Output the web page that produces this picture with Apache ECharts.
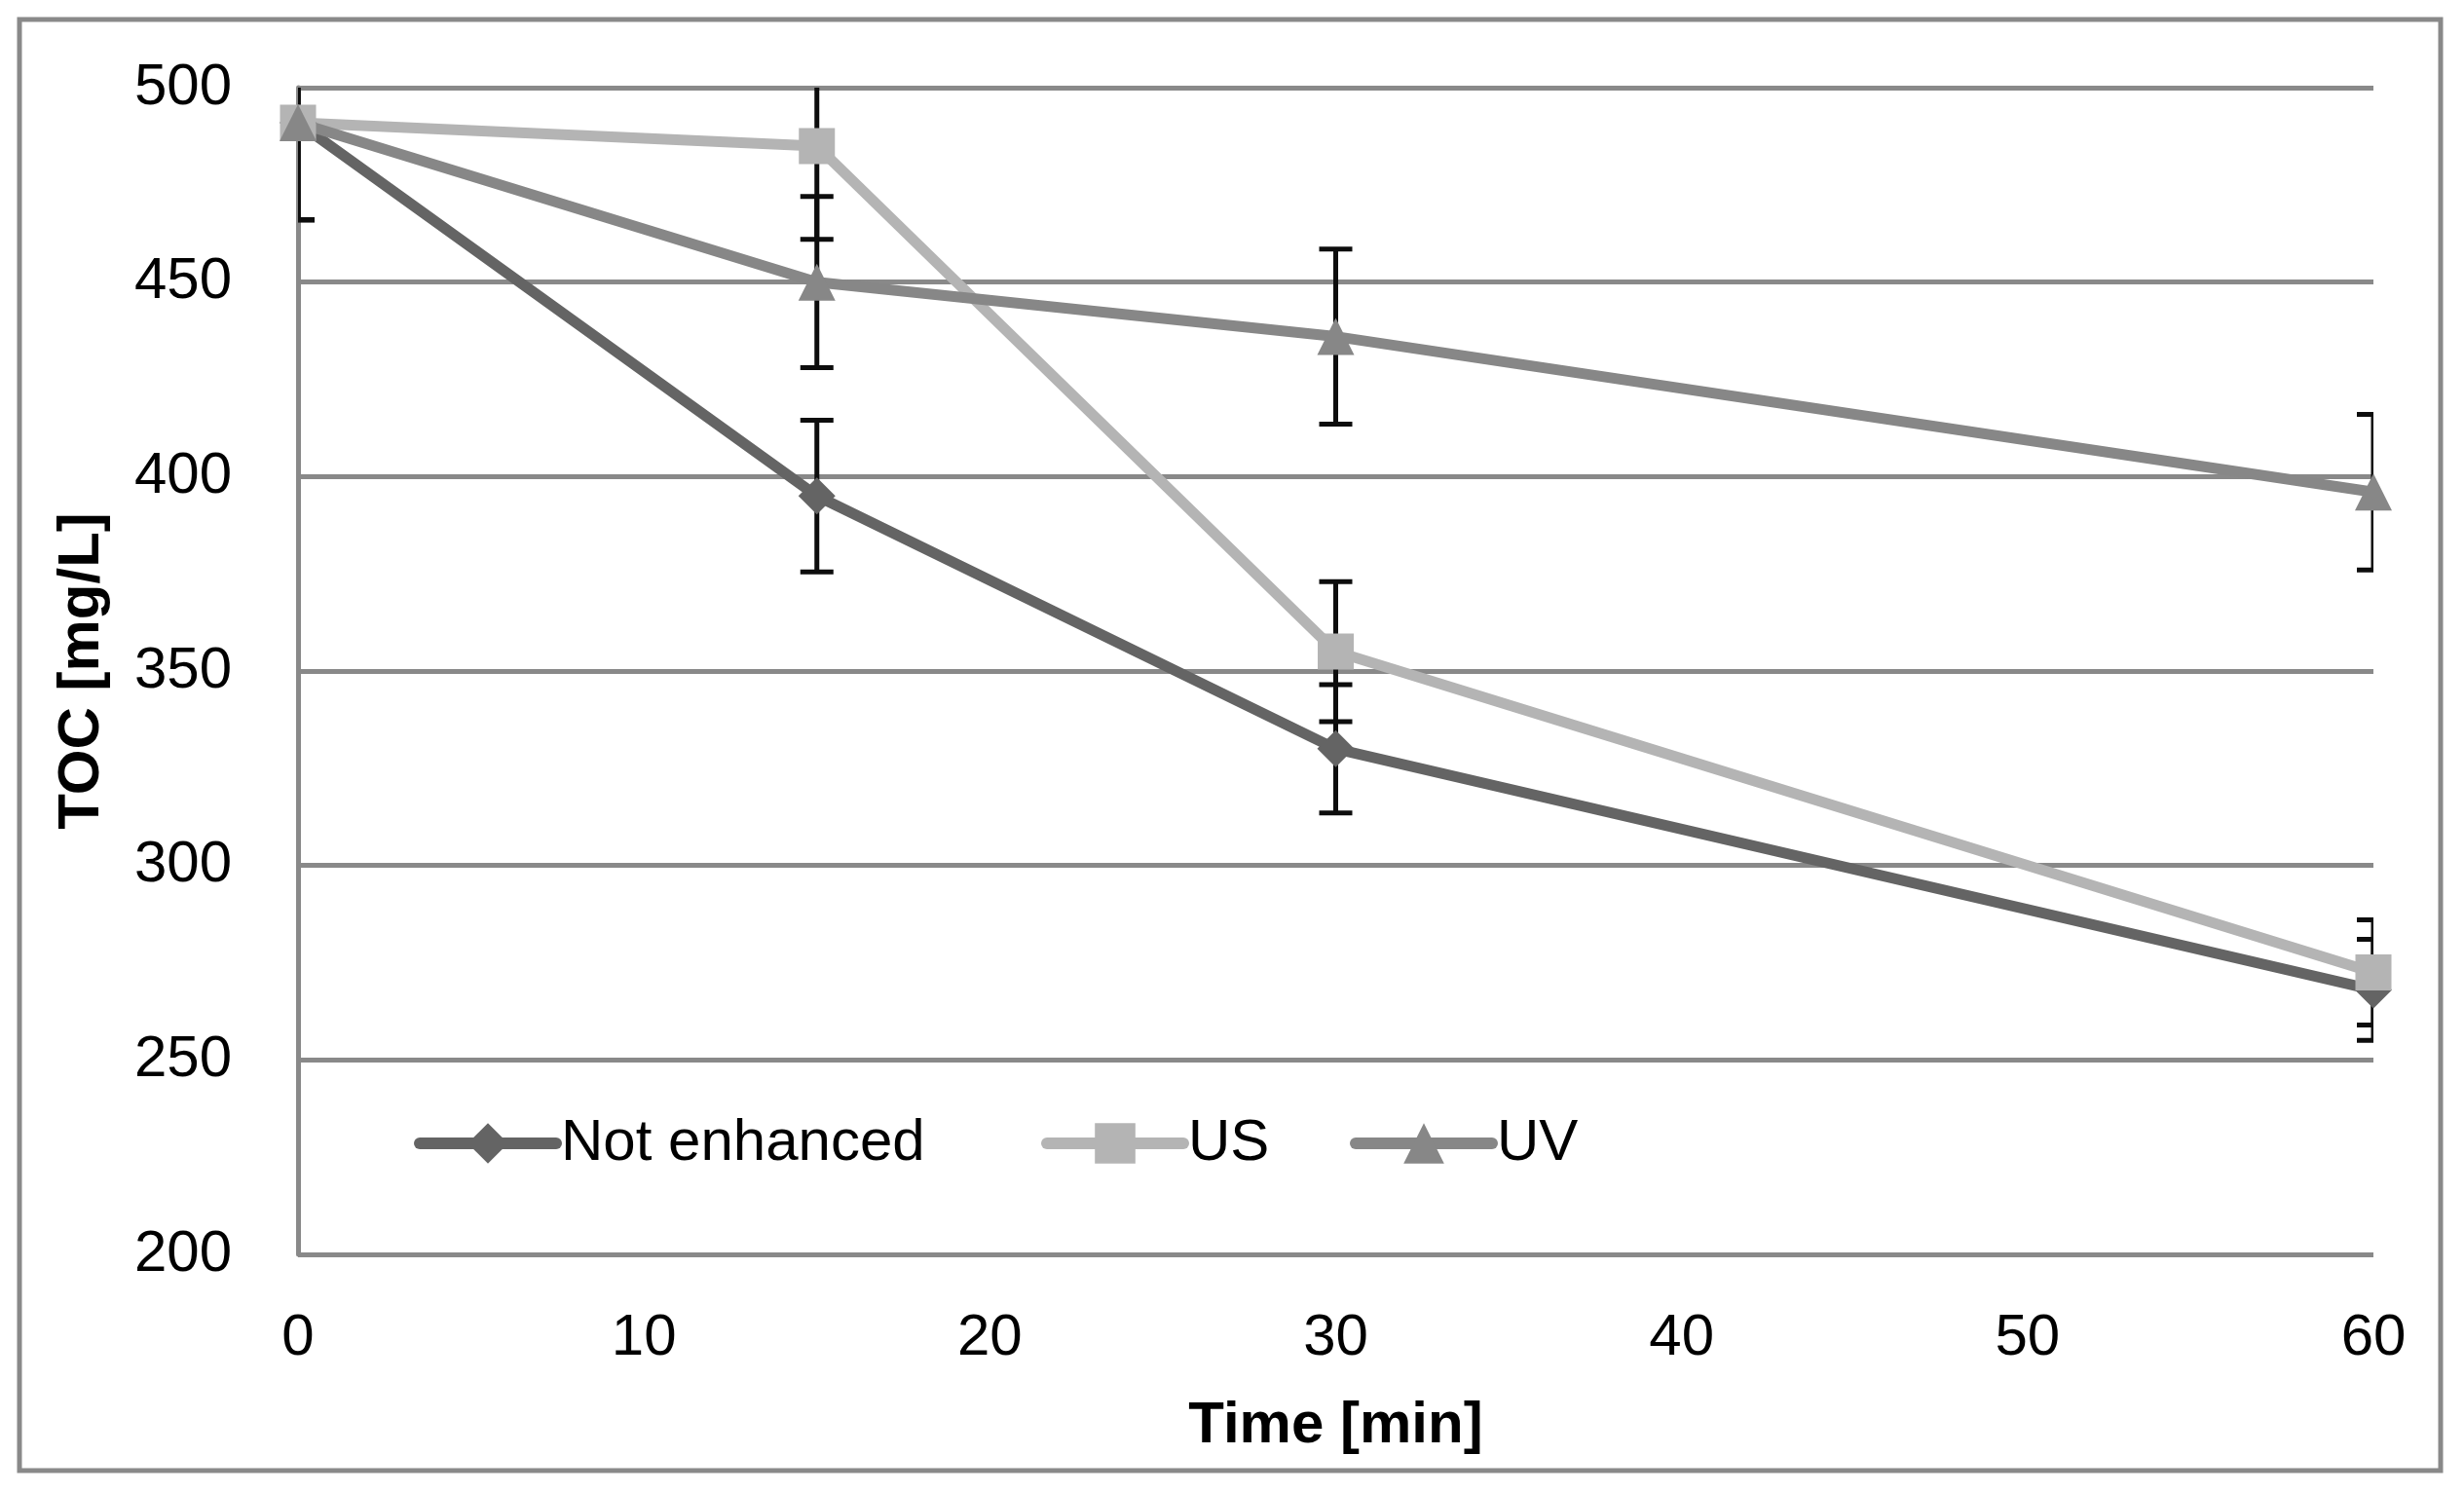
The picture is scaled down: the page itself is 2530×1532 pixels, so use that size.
<!DOCTYPE html>
<html>
<head>
    <meta charset="utf-8">
    <title>TOC</title>
    <script src="https://cdn.jsdelivr.net/npm/echarts@6/dist/echarts.min.js"></script>
    <style>
        html, body { margin: 0; padding: 0; background: #ffffff; }
        #chart { width: 2530px; height: 1532px; }
    </style>
</head>
<body>
<div id="chart"></div>
<script>
    // time points [min]
    var times = [0, 15, 30, 60];

    // TOC values [mg/L]
    var notEnhanced = [491, 395, 330, 268];
    var usValues = [491, 485, 355, 272.5];
    var uvValues = [491, 450, 436, 396];

    // error bar half-heights
    var notEnhancedErr = [25, 19.5, 16.5, 13];
    var usErr = [25, 24, 18, 13.5];
    var uvErr = [25, 22, 22.5, 20];

    var yTicks = [200, 250, 300, 350, 400, 450, 500];
    var xTicks = [0, 10, 20, 30, 40, 50, 60];

    var font = 'Liberation Sans';
    var gridColor = '#898989';

    function pairs(ys) {
        return times.map(function (t, i) { return [t, ys[i]]; });
    }
    function errData(ys, es) {
        return times.map(function (t, i) { return [t, ys[i], es[i]]; });
    }

    function renderErr(params, api) {
        var x = api.value(0), y = api.value(1), e = api.value(2);
        var hi = api.coord([x, y + e]);
        var lo = api.coord([x, y - e]);
        var w = 17;
        var st = { stroke: '#0d0d0d', lineWidth: 5 };
        return {
            type: 'group',
            children: [
                { type: 'line', shape: { x1: hi[0], y1: hi[1], x2: lo[0], y2: lo[1] }, style: st },
                { type: 'line', shape: { x1: hi[0] - w, y1: hi[1], x2: hi[0] + w, y2: hi[1] }, style: st },
                { type: 'line', shape: { x1: lo[0] - w, y1: lo[1], x2: lo[0] + w, y2: lo[1] }, style: st }
            ]
        };
    }

    function lineSeries(name, ys, color, symbol, size) {
        return {
            name: name,
            type: 'line',
            data: pairs(ys),
            symbol: symbol,
            symbolSize: size,
            z: 3,
            lineStyle: { color: color, width: 11 },
            itemStyle: { color: color },
            emphasis: { disabled: true }
        };
    }

    function errSeries(ys, es) {
        return {
            type: 'custom',
            data: errData(ys, es),
            renderItem: renderErr,
            clip: true,
            z: 2,
            silent: true
        };
    }

    function legendFor(name, left) {
        return {
            data: [name],
            left: left,
            top: 1139,
            itemWidth: 140,
            itemHeight: 52,
            selectedMode: false,
            lineStyle: { width: 12, cap: 'round' },
            textStyle: { fontFamily: font, fontSize: 60, color: '#000000' }
        };
    }

    var chart = echarts.init(document.getElementById('chart'));

    chart.setOption({
        backgroundColor: '#ffffff',
        animation: false,
        textStyle: { fontFamily: font },
        graphic: [{
            type: 'rect',
            shape: { x: 20, y: 20, width: 2486, height: 1490 },
            style: { fill: 'none', stroke: gridColor, lineWidth: 5 },
            silent: true
        }],
        grid: { left: 306, top: 90, right: 93, bottom: 244 },
        legend: [
            legendFor('Not enhanced', 420),
            legendFor('US', 1064),
            legendFor('UV', 1381)
        ],
        xAxis: {
            type: 'value',
            min: xTicks[0],
            max: xTicks[xTicks.length - 1],
            interval: 10,
            name: 'Time [min]',
            nameLocation: 'middle',
            nameGap: 146,
            nameTextStyle: { fontFamily: font, fontSize: 60, fontWeight: 'bold', color: '#000000' },
            axisLine: { show: false },
            axisTick: { show: false },
            splitLine: { show: false },
            axisLabel: { fontFamily: font, fontSize: 60, color: '#000000', margin: 56 }
        },
        yAxis: {
            type: 'value',
            min: yTicks[0],
            max: yTicks[yTicks.length - 1],
            interval: 50,
            name: 'TOC [mg/L]',
            nameLocation: 'middle',
            nameGap: 192,
            nameTextStyle: { fontFamily: font, fontSize: 60, fontWeight: 'bold', color: '#000000' },
            axisLine: { show: true, onZero: false, lineStyle: { color: gridColor, width: 5 } },
            axisTick: { show: false },
            splitLine: { show: true, lineStyle: { color: gridColor, width: 5 } },
            axisLabel: { fontFamily: font, fontSize: 60, color: '#000000', margin: 68 }
        },
        series: [
            errSeries(notEnhanced, notEnhancedErr),
            errSeries(usValues, usErr),
            errSeries(uvValues, uvErr),
            lineSeries('Not enhanced', notEnhanced, '#646464', 'diamond', 38),
            lineSeries('US', usValues, '#b4b4b4', 'rect', 37),
            lineSeries('UV', uvValues, '#878787', 'triangle', 38)
        ]
    });
</script>
</body>
</html>
